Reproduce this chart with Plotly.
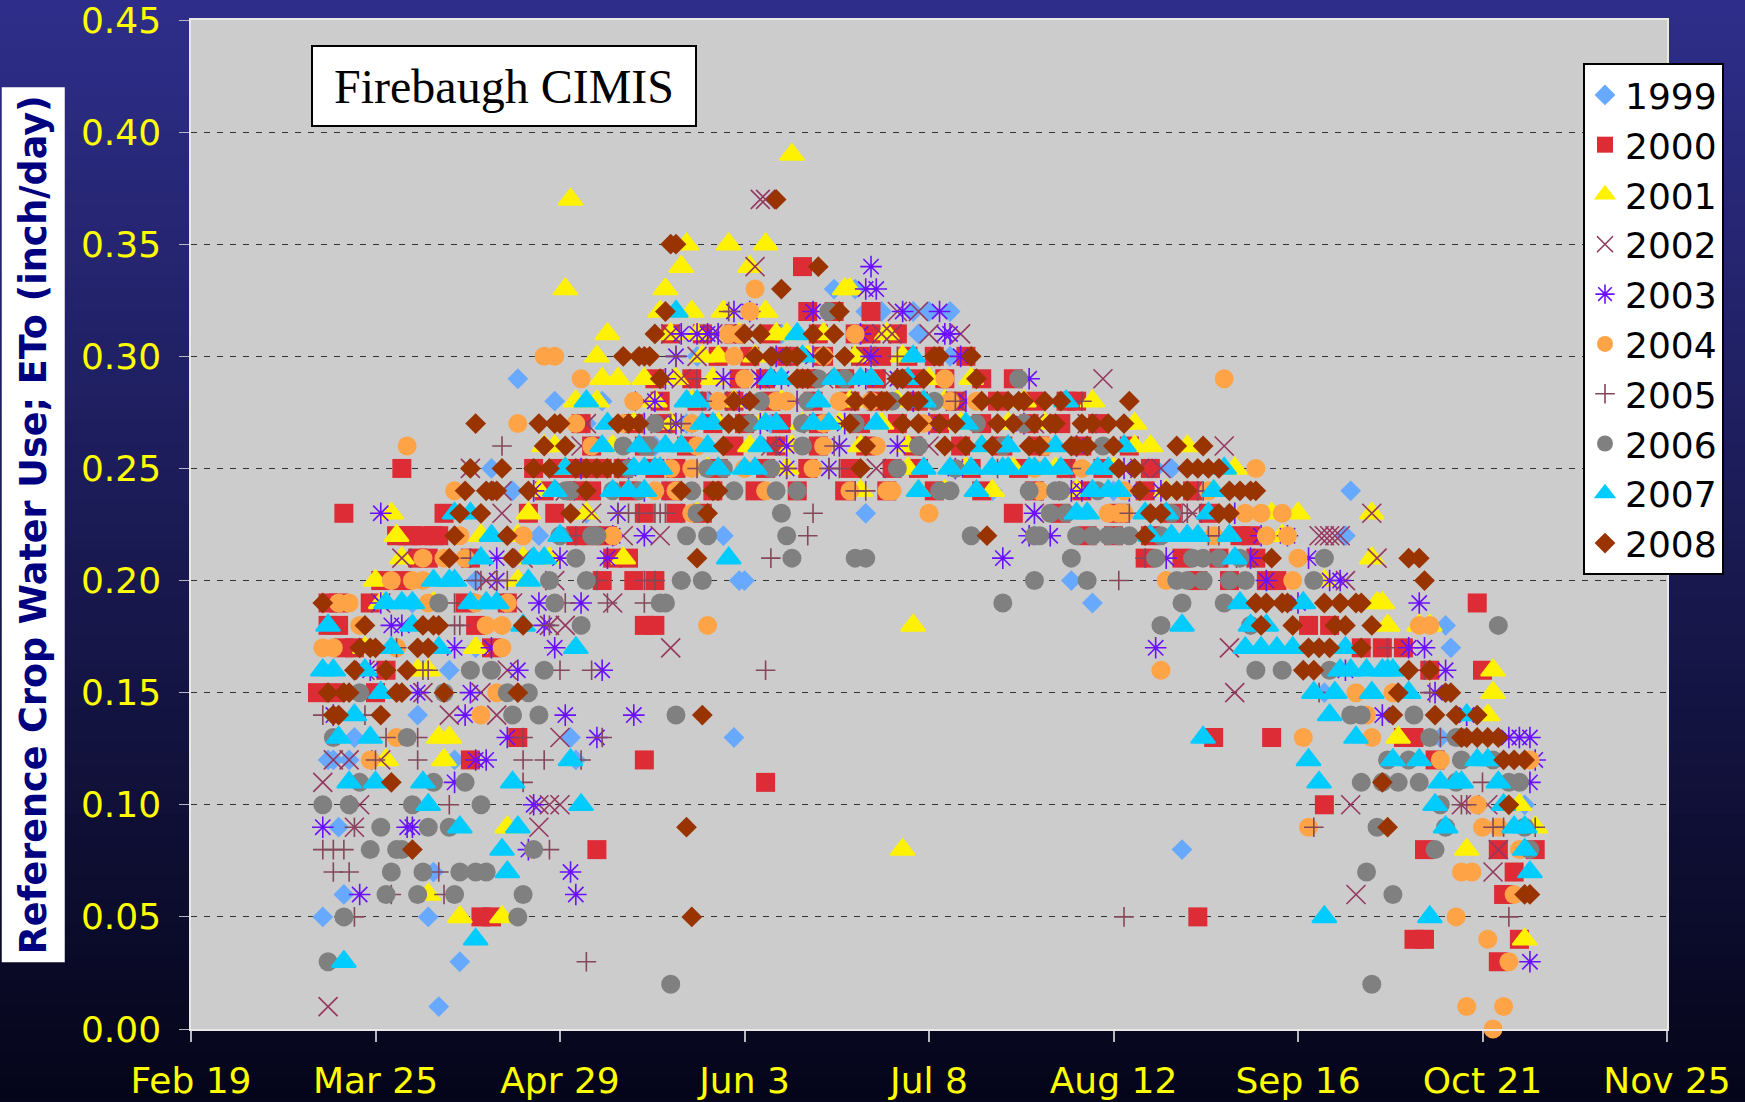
import plotly.graph_objects as go

tick_days = [0, 35, 70, 105, 140, 175, 210, 245, 280]
tick_labels = ["Feb 19", "Mar 25", "Apr 29", "Jun 3", "Jul 8", "Aug 12", "Sep 16", "Oct 21", "Nov 25"]
y_ticks = [0, .05, .10, .15, .20, .25, .30, .35, .40, .45]

# value -> days after Feb 19
rows_1999 = {.33:[122,126],.32:[128,131,137,140,144],.31:[138,112],.30:[96,100,144,130],.29:[62,109,125,136],.28:[69,78,98,118],
 .27:[94,95,75,110],.26:[88,120,146],.25:[57,183,186,165],.24:[61,152,220,175,90],.23:[75,93,128],.22:[66,219,160,101],.20:[54,104,105,167],
 .19:[42,171],.18:[238],.17:[54,239],.16:[49],.15:[215],.14:[43],.13:[31,72,103,237],.12:[26,27,30,50,73],.10:[253],.09:[28],.08:[188],.07:[46],.06:[29],
 .05:[25,45],.03:[51],.01:[47]}
rows_2000 = {.34:[116],.32:[117,122,129],.31:[91,97,103,110,119,126,129,134],.30:[100,106,113,120,127,131,136,141,147],
 .29:[88,95,104,109,117,124,130,137,143,150,156],.28:[89,96,103,110,118,125,130,138,145,153,160,166,168],
 .27:[74,84,90,99,105,112,119,127,134,142,150,159,165,172],.26:[76,86,94,103,111,119,128,137,146,154,161,169,178],
 .25:[40,65,70,72,75,78,82,88,92,100,109,117,125,133,138,148,157,166,173,182],.24:[67,73,76,83,91,99,107,115,124,132,141,150,160,169,181,190],
 .23:[29,48,64,69,86,92,97,156,165,176,186,193],.22:[39,41,42,44,46,47,73,76,79,170,175,182,199,201],.21:[43,45,53,80,83,181,188,195,202],
 .20:[36,40,78,84,88,191,197,204,206],.19:[26,28,34,52,60,244],.18:[26,28,54,86,88,212,216],.17:[29,31,57,222,226,230],.16:[37,245,235],
 .15:[24,27,35],.13:[62,194,205,230,232],.12:[53,236,86],.11:[109],.10:[215],.08:[77,234,248,255],.07:[251],.06:[249],.05:[55,57,191],
 .04:[232,234,252],.03:[248]}
rows_2001 = {.39:[114],.37:[72],.35:[94,102,109],.34:[93,106],.33:[71,90,124,125],.32:[89,95,109,101],.31:[79,91,96,111,113,104,120,132],
 .30:[77,100,97,107,117,126,135],.29:[78,81,86,129,92,99,110,122,140,148],.28:[73,77,88,95,103,112,125,134,143,158,171],
 .27:[84,91,100,108,116,123,131,146,155,162,179],.26:[67,69,80,93,106,114,127,136,150,179,182,189],.25:[71,98,113,136,147,156,164,175,198],
 .24:[66,83,127,138,143,152,168,185,194],.23:[38,64,75,96,205,210,224],.22:[39,55,62,207],.21:[40,63,68,82,224],.20:[35,62,215],.19:[36,46,225,226],.18:[137,227,233,235],
 .17:[54,33],.16:[45,43,247],.15:[247],.14:[246],.13:[47,49,229],.12:[48,37],.10:[252],.09:[60,255],.08:[135,242],.06:[45],.05:[51,59],.04:[253]}
rows_2002 = {.37:[108,109],.34:[107],.32:[134,138],.31:[91,99,131,133,140,146,105],.30:[128,96,112],.29:[173,108,93,120,133],.28:[86,100,127,145],.27:[75,89,118,160,170],
 .26:[196,74,110,140],.25:[53,180,184,130],.24:[59,71,163],.23:[59,76,160,224,190],.22:[82,89,214,215,216,217,218],.21:[40,63,225,200],.20:[219,56,69],.19:[36,61,80],
 .18:[68,71],.17:[91,197],.16:[33,60],.15:[44,55,198],.14:[49,58],.13:[70],.12:[27,30,36],.11:[25],.10:[32,66,68,70,220,241,246],.09:[31,66],.08:[248],.07:[247],.06:[221],.01:[26]}
rows_2003 = {.34:[129],.33:[128,130],.32:[103,118,135,142,106],.31:[93,98,127,143,144,100,96],.30:[92,118,146,129,111],.29:[90,101,108,112,128,134,159],
 .28:[115,88,104,137,147],.27:[86,92,108,124,140,158],.26:[113,123,134,168],.25:[113,121,74,83,145,177],.24:[65,86,167,169,178,184],.23:[36,81,160,198],.22:[80,86,159,163,203,208],
 .21:[58,70,79,154,185,201,212],.20:[58,204,216,218],.19:[36,66,74,233,210],.18:[38,40,67],.17:[50,57,69,183,231,234],.16:[34,62,78,219,238],.15:[43,53,236],
 .14:[27,52,71,84,226,242],.13:[60,77,250,252,254],.12:[54,56,255],.11:[50,254],.10:[65],.09:[25,41,42],.08:[64],.07:[72],.06:[32,73],.03:[254]}
rows_2004 = {.33:[107],.32:[106],.31:[102,104,126],.30:[67,69,103,120],.29:[74,105,143,196],.28:[84,100,111,113,123,129,144,149],.27:[62,73,82,95,120,139,158],
 .26:[41,76,96,120,130,154,162],.25:[91,95,105,118,160,169,202],.24:[50,88,92,109,125,132,133,161,177,193],.23:[95,140,174,176,177,200,203,207],
 .22:[51,63,80,194,204,208],.21:[44,48,52,210],.20:[38,42,44,185,209],.19:[28,30,45,54,60],.18:[32,56,59,98,233,235],.17:[25,27,39,59],.16:[184],.15:[58,221,228],
 .14:[55,223],.13:[39,211,224],.12:[34,237,254],.10:[244],.09:[212,245,248],.08:[252],.07:[241,243],.06:[251],.05:[240],.04:[246],.03:[250],.01:[242,249],.00:[247]}
rows_2005 = {.32:[102],.30:[92,134],.29:[96],.28:[97,115,145,169],.27:[91,93],.26:[59,111,122],.25:[96,113,121,123,153,167],.24:[126,128,191,192],.23:[81,83,85,88,89,90,118,178,188,189],
 .22:[73,117,193,195],.21:[53,110,181],.20:[54,55,58,60,77,86,88,176],.19:[50,71,79,86],.18:[50,51,68],.17:[39,227],.16:[44,45,70,76,109,234],.15:[214,235],.14:[25,33],
 .13:[37,43,63,78,237],.12:[35,43,63,67,74],.11:[63,245],.10:[49,241,242],.09:[31,213,247,249,255],.08:[25,27,29,68],.07:[27,30,47],.06:[38,48],.05:[31,177,250],.03:[75]}
rows_2006 = {.32:[121],.29:[119,124,157],.28:[108,117,133,141],.27:[88,106,116,126,149,158],.26:[82,86,87,116,138,154,173],.25:[83,98,101,110,134,145],
 .24:[71,72,80,85,95,103,111,115,142,144,159,164,165,172],.23:[96,112,163,166,186],.22:[70,76,77,94,98,113,148,160,161,168,171,174,176,178,184],
 .21:[73,114,126,128,167,183,190,192,195,199,215],.20:[68,75,93,97,160,170,187,189,192,197,200,213],.19:[47,69,89,90,154,188,196],.18:[74,184,201,248],
 .16:[53,57,67,202,207,216],.15:[32,48,60,64],.14:[61,66,92,220,222,232],.13:[27,41,235,240,241],.12:[227,231,241,247],.11:[32,46,52,222,226,229,233,240,250,252],
 .10:[25,30,42,55,237],.09:[36,45,49,225,238,253],.08:[34,39,40,65,236,254],.07:[38,44,51,54,56,223],.06:[37,43,50,63,228],.05:[29,62],.03:[26],.02:[91,224]}
rows_2007 = {.32:[92],.31:[115],.30:[116,137],.29:[110,112,122,127,129,136],.28:[75,94,96,119,139,166],.27:[79,97,99,109,111,118,121,130,147],
 .26:[78,85,90,93,98,108,150,155,164,177],.25:[71,84,86,88,89,100,105,107,139,144,148,152,154,155,159,160,162,165,172,174,196],.24:[69,80,83,86,138,149,171,174,176,194],
 .23:[50,53,168,170,181,185,193],.22:[57,70,182,186,189,191,197],.21:[55,65,67,102,198],.20:[46,49,50,64],.19:[37,40,42,53,56,58,199,211],.18:[26,42,63,188,201,204],
 .17:[38,47,73,200,203,206,209,219],.16:[25,27,33,218,220,223,226,227,228],.15:[36,213,217,224,231],.14:[31,216,242],.13:[28,34,192,221],.12:[72,212,228,233,244,246],
 .11:[30,35,44,61,214,237,240,241,248],.10:[45,74,236,249],.09:[51,62,238,251,253],.08:[59,253],.07:[60,254],.05:[215,235],.04:[54],.03:[29]}
rows_2008 = {.37:[111],.35:[91,92],.34:[119],.33:[112],.32:[90,123],.31:[88,105,108,118,122],.30:[82,85,86,87,107,110,113,115,120,124,141,142,148],
 .29:[89,115,116,117,134,135,139,149],.28:[103,106,126,129,131,132,136,138,150,153,155,157,158,162,165,178],
 .27:[54,66,69,70,81,83,85,102,104,125,135,138,142,145,153,156,160,163,164,169,171,174,177],.26:[67,71,101,128,143,147,152,159,161,167,168,170,175,187,192],
 .25:[53,59,65,68,73,75,77,79,81,127,176,179,189,191,193,195],.24:[52,56,57,58,64,75,93,99,100,180,185,187,189,197,199,201,202],
 .23:[51,55,72,98,182,184,195,197],.22:[50,60,151,181],.21:[49,61,96,205,231,233],.20:[234],.19:[25,202,204,207,208,215,218,221,222],
 .18:[33,44,46,47,63,203,209,217,219,224],.17:[32,34,35,43,45,212,214,216,222],.16:[31,37,41,211,213,231,235],.15:[26,29,30,39,40,48,62,229,238,239],
 .14:[27,28,36,97,228,236,240,244],.13:[241,242,244,246,248],.12:[249,251,253],.11:[38,226],.10:[250],.09:[94,227],.08:[42],.06:[253,254],.05:[95]}

years = ["1999","2000","2001","2002","2003","2004","2005","2006","2007","2008"]
all_rows = [rows_1999,rows_2000,rows_2001,rows_2002,rows_2003,rows_2004,rows_2005,rows_2006,rows_2007,rows_2008]
colors = ["#66A9FF","#DD2C35","#FFF200","#953860","#6A10FF","#FFA347","#84485A","#808080","#00CCFF","#993300"]
symbols = ["diamond","square","triangle-up","x-thin","asterisk","circle","cross-thin","circle","triangle-up","diamond"]
sizes = [16,19,21,19,18,19,14,19,21,16]
open_marks = {"x-thin","asterisk","cross-thin"}

fig = go.Figure()
for i, (yr, rows) in enumerate(zip(years, all_rows)):
    xs, ys = [], []
    for v, days in rows.items():
        for d in days:
            xs.append(d); ys.append(v)
    is_open = symbols[i] in open_marks
    is_tri = symbols[i] == "triangle-up"
    line = dict(color=colors[i], width=1.6) if is_open else (dict(color=colors[i], width=2) if is_tri else dict(width=0))
    fig.add_trace(go.Scatter(x=xs, y=ys, mode="markers", name=yr, legendgroup=yr, cliponaxis=False,
                             marker=dict(symbol=symbols[i], size=sizes[i], color=colors[i], line=line)))

W, H = 1745, 1102
L, R, T, B = 191, 78, 20, 72.5
pw, ph = W-L-R, H-T-B
def px(x): return (x-L)/pw
def py(y): return (H-B-y)/ph

# vertical gradient background, then the grey plot panel on top of it
shapes = []
n = 92
top, bot = (46,46,138), (5,5,26)
for k in range(n):
    t = k/(n-1)
    c = tuple(round(a+(b-a)*t) for a, b in zip(top, bot))
    shapes.append(dict(type="rect", xref="paper", yref="paper", layer="below", line=dict(width=0),
                       x0=px(0), x1=px(W), y0=py(min(H, (k+1)*H/n+1)), y1=py(k*H/n),
                       fillcolor="rgb(%d,%d,%d)" % c))
shapes.append(dict(type="rect", xref="paper", yref="paper", layer="below", line=dict(width=0),
                   x0=0, x1=1, y0=0, y1=1, fillcolor="#CCCCCC"))
fig.update_layout(
    width=W, height=H, margin=dict(l=L, r=R, t=T, b=B, pad=0, autoexpand=False),
    paper_bgcolor="#0a0a30", plot_bgcolor="#CCCCCC", shapes=shapes,
    font=dict(family="DejaVu Sans", color="#FFFF00", size=36),
    xaxis=dict(range=[0,280], tickvals=tick_days, ticktext=tick_labels, ticks="outside", ticklen=11, tickwidth=2, tickcolor="#B8B8C0",
               showgrid=False, zeroline=False, showline=True, linecolor="#E8E8E8", linewidth=1.5, mirror=True, automargin=False,
               tickfont=dict(size=36, color="#FFFF00"), ticklabelstandoff=8, ticklabeloverflow="allow"),
    yaxis=dict(range=[0,.45], tickvals=y_ticks, tickformat=".2f", ticks="outside", ticklen=10, tickwidth=1, tickcolor="#B8B8C0",
               showgrid=True, gridcolor="#333333", griddash="6px,7px", gridwidth=1, zeroline=False, ticklabelstandoff=11, ticklabeloverflow="allow", automargin=False,
               showline=True, linecolor="#E8E8E8", linewidth=1.5, mirror=True, tickfont=dict(size=36, color="#FFFF00")),
    legend=dict(x=px(1583), y=py(63), xanchor="left", yanchor="top", bgcolor="white", bordercolor="black", borderwidth=2,
                font=dict(size=36, color="black", family="DejaVu Sans"), tracegroupgap=3, itemclick=False, itemdoubleclick=False,
                traceorder="normal", itemwidth=30),
    annotations=[
        dict(xref="paper", yref="paper", x=px(33), y=py(525), xanchor="center", yanchor="middle",
             text="<b>Reference Crop Water Use; ETo (inch/day)</b>", textangle=-90,
             showarrow=False, bgcolor="white", font=dict(size=36.5, color="#000080", family="DejaVu Sans"), width=872, height=60, align="center", valign="middle"),
        dict(xref="paper", yref="paper", x=px(504), y=py(86), xanchor="center", yanchor="middle", text="Firebaugh CIMIS", showarrow=False, bgcolor="white",
             bordercolor="black", borderwidth=2, width=380, height=76, align="center", valign="middle",
             font=dict(size=48, color="black", family="Liberation Serif")),
    ],
)
fig.write_html("out.html", config=dict(displayModeBar=False),
               post_script="document.body.style.margin='0';document.body.style.overflow='hidden';")
